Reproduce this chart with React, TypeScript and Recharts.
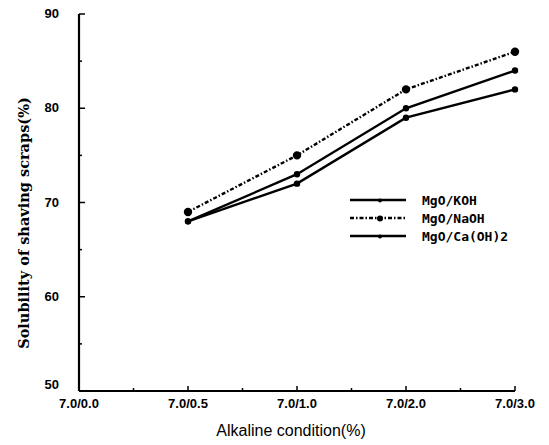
import React from 'react';
import { LineChart, Line, XAxis, YAxis, Legend } from 'recharts';

const categories = ['7.0/0.0', '7.0/0.5', '7.0/1.0', '7.0/2.0', '7.0/3.0'];
const koh = [null, 68, 73, 80, 84];
const naoh = [null, 69, 75, 82, 86];
const caoh = [null, 68, 72, 79, 82];
const xTicks = [0, 0.5, 1, 1.5, 2, 2.5, 3, 3.5, 4];
const yTicks = [50, 55, 60, 65, 70, 75, 80, 85, 90];

const data = categories.map((c, i) => ({ x: i, cat: c, koh: koh[i], naoh: naoh[i], caoh: caoh[i] }));

const XTick = (props: any) => {
  const { x, y, payload } = props;
  const v = payload.value;
  const major = Number.isInteger(v);
  return (
    <g>
      {v !== 0 && <line x1={x} x2={x} y1={y} y2={y - (major ? 5 : 3)} stroke="#000" strokeWidth={1.5} />}
      {major && (
        <text x={x} y={y + 17} textAnchor="middle" fontFamily="Liberation Sans, Arial, sans-serif" fontWeight="bold" fontSize={13} fill="#000">
          {categories[v]}
        </text>
      )}
    </g>
  );
};

const YTick = (props: any) => {
  const { x, y, payload } = props;
  const v = payload.value;
  const major = v % 10 === 0;
  return (
    <g>
      {v !== 50 && <line x1={x} x2={x + (major ? 6 : 3)} y1={y} y2={y} stroke="#000" strokeWidth={1.5} />}
      {major && (
        <text x={x - 20} y={y + (v === 50 ? -2 : 4)} textAnchor="end" fontFamily="Liberation Sans, Arial, sans-serif" fontWeight="bold" fontSize={13} fill="#000">
          {v}
        </text>
      )}
    </g>
  );
};

const legendItems = [
  { name: 'MgO/KOH', dash: undefined as string | undefined, r: 2 },
  { name: 'MgO/NaOH', dash: '4 2 1.5 2', r: 3 },
  { name: 'MgO/Ca(OH)2', dash: undefined as string | undefined, r: 2 },
];

const LegendContent = () => (
  <svg width={180} height={60}>
    {legendItems.map((it, i) => {
      const y = 8 + i * 18;
      return (
        <g key={it.name}>
          <line x1={2} x2={58} y1={y} y2={y} stroke="#000" strokeWidth={2.4} strokeDasharray={it.dash} />
          <circle cx={32} cy={y + 0.5} r={it.r} fill="#000" />
          <text x={74} y={y + 5} fontFamily="DejaVu Sans Mono, monospace" fontWeight="bold" fontSize={13} fill="#000">
            {it.name}
          </text>
        </g>
      );
    })}
  </svg>
);

const YLabel = () => (
  <text x={23} y={223} transform="rotate(-90 23 223)" textAnchor="middle" dominantBaseline="central" fontFamily="DejaVu Serif, serif" fontSize={14.5} fontWeight="bold" fill="#000">
    Solubility of shaving scraps(%)
  </text>
);

const XLabel = () => (
  <text x={291} y={436} textAnchor="middle" fontFamily="Liberation Sans, Arial, sans-serif" fontSize={16} fill="#000">
    Alkaline condition(%)
  </text>
);

const dotStyle = { r: 2, fill: '#000', stroke: '#000', strokeDasharray: '0' };

export default function App() {
  return (
    <div style={{ position: 'absolute', left: 0, top: 0, background: '#fff' }}>
      <LineChart width={549} height={445} data={data} margin={{ top: 14, right: 34, bottom: 24, left: 19 }}>
        <XAxis
          dataKey="x"
          type="number"
          domain={[0, 4]}
          ticks={xTicks}
          interval={0}
          height={30}
          tickSize={0}
          tickMargin={0}
          tick={<XTick />}
          tickLine={false}
          axisLine={{ stroke: '#000', strokeWidth: 2.2 }}
          label={<XLabel />}
        />
        <YAxis
          type="number"
          domain={[50, 90]}
          ticks={yTicks}
          interval={0}
          width={60}
          tickSize={0}
          tickMargin={0}
          tick={<YTick />}
          tickLine={false}
          axisLine={{ stroke: '#000', strokeWidth: 2.2 }}
          label={<YLabel />}
        />
        <Legend
          layout="vertical"
          verticalAlign="middle"
          align="center"
          content={<LegendContent />}
          wrapperStyle={{ position: 'absolute', left: 348, top: 192, width: 180 }}
        />
        <Line dataKey="koh" name="MgO/KOH" stroke="#000" strokeWidth={2.4} dot={dotStyle} isAnimationActive={false} />
        <Line dataKey="naoh" name="MgO/NaOH" stroke="#000" strokeWidth={2.4} strokeDasharray="4 2 1.5 2" dot={{ ...dotStyle, r: 3 }} isAnimationActive={false} />
        <Line dataKey="caoh" name="MgO/Ca(OH)2" stroke="#000" strokeWidth={2.4} dot={dotStyle} isAnimationActive={false} />
      </LineChart>
    </div>
  );
}
